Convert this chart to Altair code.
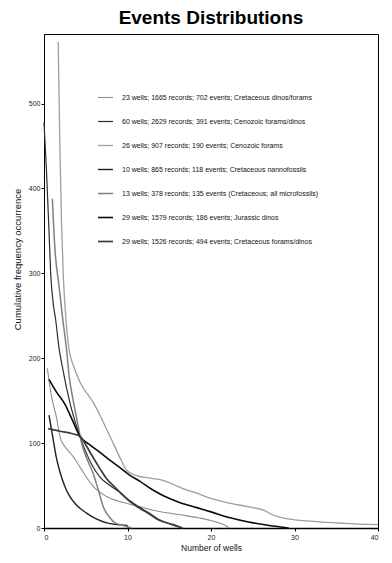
import altair as alt
import pandas as pd

series_labels = [
    "23 wells; 1665 records; 702 events; Cretaceous dinos/forams",
    "60 wells; 2629 records; 391 events; Cenozoic forams/dinos",
    "26 wells; 907 records; 190 events; Cenozoic forams",
    "10 wells; 865 records; 118 events; Cretaceous nannofossils",
    "13 wells; 378 records; 135 events (Cretaceous; all microfossils)",
    "29 wells; 1579 records; 186 events; Jurassic dinos",
    "29 wells; 1526 records; 494 events; Cretaceous forams/dinos",
]

s1_x = [0.4, 0.9, 1.5, 1.9, 2.5, 3.0, 3.5, 4.3, 5.2, 5.9, 7.5, 9.5, 11.5, 13.5, 16.3, 18.5, 20.3, 21.5, 22.2]
s1_y = [188, 155, 130, 108, 96, 90, 84, 72, 58, 49, 37, 30, 25, 20, 15.6, 12, 8, 4, 0]

s2_x = [0.0, 0.3, 0.6, 0.8, 1.1, 1.4, 1.8, 2.2, 2.7, 3.3, 4.3, 5.0, 5.7, 6.7, 7.9, 9.1, 10.3, 11.5, 12.7, 13.6, 15.0, 16.5]
s2_y = [478, 420, 350, 300, 265, 245, 212, 190, 165, 140, 108, 90, 75, 60, 50, 42, 32, 24, 17, 11, 5, 0]

s3_x = [1.7, 1.9, 2.1, 2.3, 2.6, 3.0, 3.5, 4.3, 5.9, 7.9, 9.0, 9.9, 11.0, 12.5, 13.9, 15.1, 16.5, 18.3, 20.3, 22.3, 24.5, 26.3, 27.5, 28.7, 32.3, 36.0, 40.0]
s3_y = [573, 450, 360, 300, 250, 210, 192, 172, 148, 108, 85, 68, 62, 59, 57, 53, 47, 41, 34, 29, 25, 21, 15, 11.7, 7.8, 5.5, 3.9]

s4_x = [0.6, 1.0, 1.5, 2.0, 2.5, 3.1, 4.0, 5.1, 6.2, 7.5, 8.8, 9.9, 10.1]
s4_y = [133, 110, 82, 63, 49, 37, 26, 17.6, 11, 6, 4, 3, 0]

s5_x = [1.0, 1.3, 1.8, 2.2, 2.7, 3.0, 3.5, 4.0, 4.5, 5.2, 5.9, 6.5, 7.1, 7.9, 8.5, 9.5, 10.5]
s5_y = [388, 330, 285, 250, 210, 180, 150, 125, 100, 80, 64, 45, 25, 12, 6, 3, 0]

s6_x = [0.6, 1.5, 2.5, 3.4, 4.3, 5.5, 6.7, 8.0, 9.1, 10.3, 11.5, 13.0, 14.3, 16.0, 18.3, 20.0, 22.3, 24.5, 27.0, 29.3]
s6_y = [175, 160, 146, 127, 108, 98, 89, 79, 71, 62, 55, 45, 38, 31, 24, 19, 12, 7, 3, 0]

s7_x = [0.5, 1.9, 3.0, 4.3, 5.0, 5.7, 6.7, 7.5, 8.5, 9.5, 10.3, 11.5, 12.7, 13.6, 15.5, 16.6]
s7_y = [117, 114, 112, 108, 98, 86, 70, 58, 48, 38, 31, 23, 16, 10, 4, 0]

xs_all = [s1_x, s2_x, s3_x, s4_x, s5_x, s6_x, s7_x]
ys_all = [s1_y, s2_y, s3_y, s4_y, s5_y, s6_y, s7_y]

rows = []
for label, xs, ys in zip(series_labels, xs_all, ys_all):
    for i, (x, y) in enumerate(zip(xs, ys)):
        rows.append({"series": label, "wells": x, "freq": y, "order": i})
df = pd.DataFrame(rows)

line_colors = ["#8e8e8e", "#2e2e2e", "#9e9e9e", "#1e1e1e", "#808080", "#0a0a0a", "#3c3c3c"]
line_widths = [1.1, 1.7, 1.1, 1.4, 1.1, 1.7, 1.3]

chart = alt.Chart(df).mark_line(interpolate="monotone").encode(
    x=alt.X("wells:Q",
            scale=alt.Scale(domain=[0, 40], nice=False, zero=False),
            axis=alt.Axis(values=[0, 10, 20, 30, 40], title="Number of wells",
                          tickSize=3, labelPadding=2, titlePadding=3, domainWidth=1.5)),
    y=alt.Y("freq:Q",
            scale=alt.Scale(domain=[0, 582], nice=False),
            axis=alt.Axis(values=[0, 100, 200, 300, 400, 500], title="Cumulative frequency occurrence",
                          tickSize=3, labelPadding=1, titleX=-22, titleY=225, titleFontSize=9.5)),
    color=alt.Color("series:N",
                    scale=alt.Scale(domain=series_labels, range=line_colors),
                    legend=alt.Legend(title=None, orient="none", legendX=53, legendY=55,
                                      symbolType="stroke", symbolSize=225, symbolStrokeWidth=1.5,
                                      labelFontSize=7, labelFont="Liberation Sans", labelOffset=8,
                                      rowPadding=12, padding=0, labelLimit=0, labelColor="#111")),
    strokeWidth=alt.StrokeWidth("series:O",
                                scale=alt.Scale(domain=series_labels, range=line_widths),
                                legend=None),
    order="order:Q",
).properties(
    width=334,
    height=494,
    autosize=alt.AutoSizeParams(type="none"),
    padding={"left": 36, "top": 26, "right": 6, "bottom": 27},
    title=alt.TitleParams("Events Distributions", font="Liberation Sans", fontSize=19,
                          fontWeight="bold", anchor="middle", offset=6, color="black"),
).configure_view(
    stroke="black", strokeWidth=1
).configure_axis(
    grid=False, domainColor="black", tickColor="black", labelColor="#222",
    labelFont="Liberation Sans", labelFontSize=7, titleFont="Liberation Sans",
    titleFontSize=8.5, titleFontWeight="normal", titleColor="#111"
)

chart.save("out.html", embed_options={"renderer": "svg", "actions": False})
